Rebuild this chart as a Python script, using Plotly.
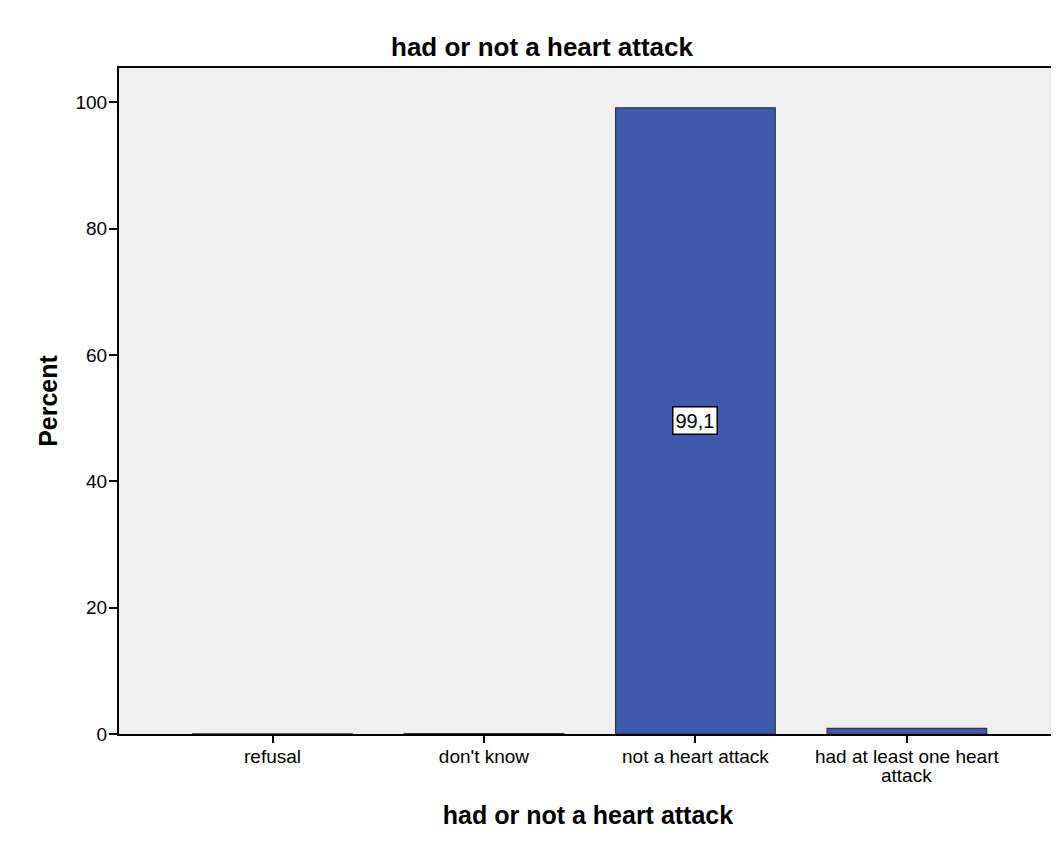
import plotly.graph_objects as go

categories = ["refusal", "don't know", "not a heart attack", "had at least one heart attack"]
tick_lines = [["refusal"], ["don't know"], ["not a heart attack"], ["had at least one heart", "attack"]]
percent = [0.02, 0.05, 99.1, 0.9]
label_text = "99,1"
label_index = 2

W, H = 1051, 834  # page body has an 8px margin
FONT = "Liberation Sans, Arial"

fig = go.Figure()
fig.add_trace(go.Bar(
    x=list(range(len(categories))),
    y=percent,
    width=0.755,
    marker=dict(color="#3F59AE", line=dict(color="#333333", width=1.2)),
    hoverinfo="skip",
))

fig.add_annotation(
    x=label_index, y=percent[label_index] / 2,
    text=label_text, showarrow=False,
    font=dict(family=FONT, size=20, color="black"),
    bgcolor="white", bordercolor="black", borderwidth=1.5, borderpad=2,
)

# continuation lines of wrapped tick labels (tighter line spacing than Plotly's default)
for i, lines in enumerate(tick_lines):
    for k, extra in enumerate(lines[1:], start=1):
        fig.add_annotation(
            x=i, xref="x", y=0, yref="paper", yshift=-22 - 18 * (k - 1) - 19,
            text=extra, showarrow=False, yanchor="middle",
            font=dict(family=FONT, size=19, color="black"),
        )

fig.update_layout(
    width=W, height=H,
    margin=dict(l=111, r=0, t=60, b=108),
    paper_bgcolor="white",
    plot_bgcolor="#F0F0F0",
    showlegend=False,
    title=dict(
        text="<b>had or not a heart attack</b>",
        xref="container", yref="container",
        x=(542 - 8) / W, xanchor="center", y=1 - (47 - 8) / H, yanchor="middle",
        font=dict(family=FONT, size=26, color="black"),
    ),
    font=dict(family=FONT, size=19, color="black"),
)

fig.update_xaxes(
    tickmode="array", tickvals=list(range(len(categories))),
    ticktext=[l[0] for l in tick_lines],
    range=[-0.726, 3.71],
    showgrid=False, zeroline=False,
    showline=True, linecolor="black", linewidth=2, mirror=True,
    ticks="outside", ticklen=7, tickwidth=2, tickcolor="black",
    tickfont=dict(size=19), ticklabelstandoff=-3,
    title=dict(text="<b>had or not a heart attack</b>", font=dict(size=25), standoff=41),
)
fig.update_yaxes(
    range=[0, 105.4],
    tickvals=[0, 20, 40, 60, 80, 100],
    showgrid=False, zeroline=False,
    showline=True, linecolor="black", linewidth=2, mirror=True,
    ticks="outside", ticklen=8, tickwidth=2, tickcolor="black",
    tickfont=dict(size=19), ticklabelstandoff=-2,
    title=dict(text="<b>Percent</b>", font=dict(size=25), standoff=11),
)

fig.write_html("out.html")
